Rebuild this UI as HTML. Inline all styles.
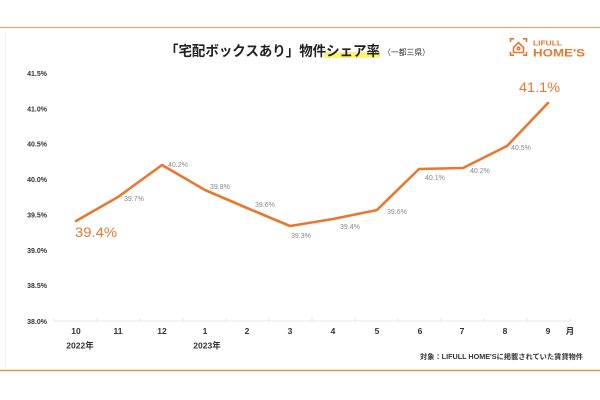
<!DOCTYPE html>
<html><head><meta charset="utf-8"><style>
html,body{margin:0;padding:0;background:#fff;}
svg{display:block;}
</style></head><body>
<svg width="600" height="400" viewBox="0 0 600 400" xmlns="http://www.w3.org/2000/svg">
<rect width="600" height="400" fill="#fff"/>
<line x1="0" y1="27.5" x2="600" y2="27.5" stroke="#dcaa82" stroke-width="1.2"/>
<line x1="0" y1="370.5" x2="600" y2="370.5" stroke="#e4924f" stroke-width="1.5"/>
<line x1="5.5" y1="30" x2="5.5" y2="368" stroke="#f3f3f3" stroke-width="1"/>

<!-- title -->
<rect x="324" y="52" width="56" height="6" fill="#fbf27a"/>
<text x="165" y="56" font-family="'Liberation Sans','Noto Sans CJK JP',sans-serif" font-size="14" font-weight="bold" fill="#222" textLength="215" lengthAdjust="spacingAndGlyphs">「宅配ボックスあり」物件シェア率</text>
<text x="383" y="55" font-family="'Liberation Sans','Noto Sans CJK JP',sans-serif" font-size="8" fill="#333" textLength="47" lengthAdjust="spacingAndGlyphs">（一都三県）</text>

<!-- logo -->
<g stroke="#e8782f" stroke-width="1.6" fill="none">
<path d="M510.5 42 V38.8 H514"/>
<path d="M523 38.8 H526.5 V42"/>
<path d="M510.5 52 V55.2 H514"/>
<path d="M523 55.2 H526.5 V52"/>
<path d="M513.5 47.5 L518.5 42.5 L523.5 47.5 V52.5 H513.5 Z"/>
<circle cx="518.5" cy="48.5" r="1.3"/>
</g>
<text x="533" y="45.5" font-family="'Liberation Sans',sans-serif" font-size="7" font-weight="bold" fill="#e8782f" textLength="29" lengthAdjust="spacingAndGlyphs">LIFULL</text>
<text x="533" y="56.5" font-family="'Liberation Sans',sans-serif" font-size="11" font-weight="bold" fill="#e8782f" textLength="52" lengthAdjust="spacingAndGlyphs">HOME'S</text>

<!-- y labels -->
<g font-family="'Liberation Sans',sans-serif" font-size="7" font-weight="bold" fill="#333" text-anchor="end">
<text x="47" y="76">41.5%</text>
<text x="47" y="111.5">41.0%</text>
<text x="47" y="146.5">40.5%</text>
<text x="47" y="182">40.0%</text>
<text x="47" y="217.5">39.5%</text>
<text x="47" y="253">39.0%</text>
<text x="47" y="288">38.5%</text>
<text x="47" y="324">38.0%</text>
</g>

<!-- x axis -->
<line x1="54" y1="321" x2="570" y2="321" stroke="#e8e8e8" stroke-width="1"/>
<g stroke="#e0e0e0" stroke-width="1">
<line x1="54" y1="318" x2="54" y2="321"/><line x1="97" y1="318" x2="97" y2="321"/><line x1="140" y1="318" x2="140" y2="321"/><line x1="183" y1="318" x2="183" y2="321"/><line x1="226" y1="318" x2="226" y2="321"/><line x1="269" y1="318" x2="269" y2="321"/><line x1="312" y1="318" x2="312" y2="321"/><line x1="355" y1="318" x2="355" y2="321"/><line x1="398" y1="318" x2="398" y2="321"/><line x1="441" y1="318" x2="441" y2="321"/><line x1="484" y1="318" x2="484" y2="321"/><line x1="527" y1="318" x2="527" y2="321"/><line x1="570" y1="318" x2="570" y2="321"/>
</g>
<g font-family="'Liberation Sans','Noto Sans CJK JP',sans-serif" font-size="8.5" font-weight="bold" fill="#333" text-anchor="middle">
<text x="76" y="334">10</text>
<text x="118" y="334">11</text>
<text x="162" y="334">12</text>
<text x="205" y="334">1</text>
<text x="247" y="334">2</text>
<text x="290" y="334">3</text>
<text x="333" y="334">4</text>
<text x="377" y="334">5</text>
<text x="420" y="334">6</text>
<text x="462" y="334">7</text>
<text x="505" y="334">8</text>
<text x="548" y="334">9</text>
<text x="570" y="334">月</text>
<text x="80" y="348.5">2022年</text>
<text x="207" y="348.5">2023年</text>
</g>

<!-- series -->
<polyline fill="none" stroke="#e8782f" stroke-width="2.6" stroke-linejoin="round" stroke-linecap="round"
 points="76,221 118,197 162,165 205,190 247,208 290,226 333,219 377,210 419,169 463,168 507,146 548,103"/>

<g font-family="'Liberation Sans',sans-serif" font-size="7" fill="#888">
<text x="124" y="201">39.7%</text>
<text x="168" y="167">40.2%</text>
<text x="210" y="189">39.8%</text>
<text x="255" y="207">39.6%</text>
<text x="291" y="238">39.3%</text>
<text x="340" y="229">39.4%</text>
<text x="387" y="214">39.6%</text>
<text x="425" y="180">40.1%</text>
<text x="470" y="173">40.2%</text>
<text x="511" y="150">40.5%</text>
</g>
<text x="75" y="237" font-family="'Liberation Sans',sans-serif" font-size="14" fill="#e8782f" textLength="42" lengthAdjust="spacingAndGlyphs">39.4%</text>
<text x="519" y="92" font-family="'Liberation Sans',sans-serif" font-size="14" fill="#e8782f" textLength="41" lengthAdjust="spacingAndGlyphs">41.1%</text>

<!-- note -->
<text x="420" y="359" font-family="'Liberation Sans','Noto Sans CJK JP',sans-serif" font-size="7" font-weight="bold" fill="#333" textLength="163" lengthAdjust="spacingAndGlyphs">対象：LIFULL HOME'Sに掲載されていた賃貸物件</text>
</svg>
</body></html>
